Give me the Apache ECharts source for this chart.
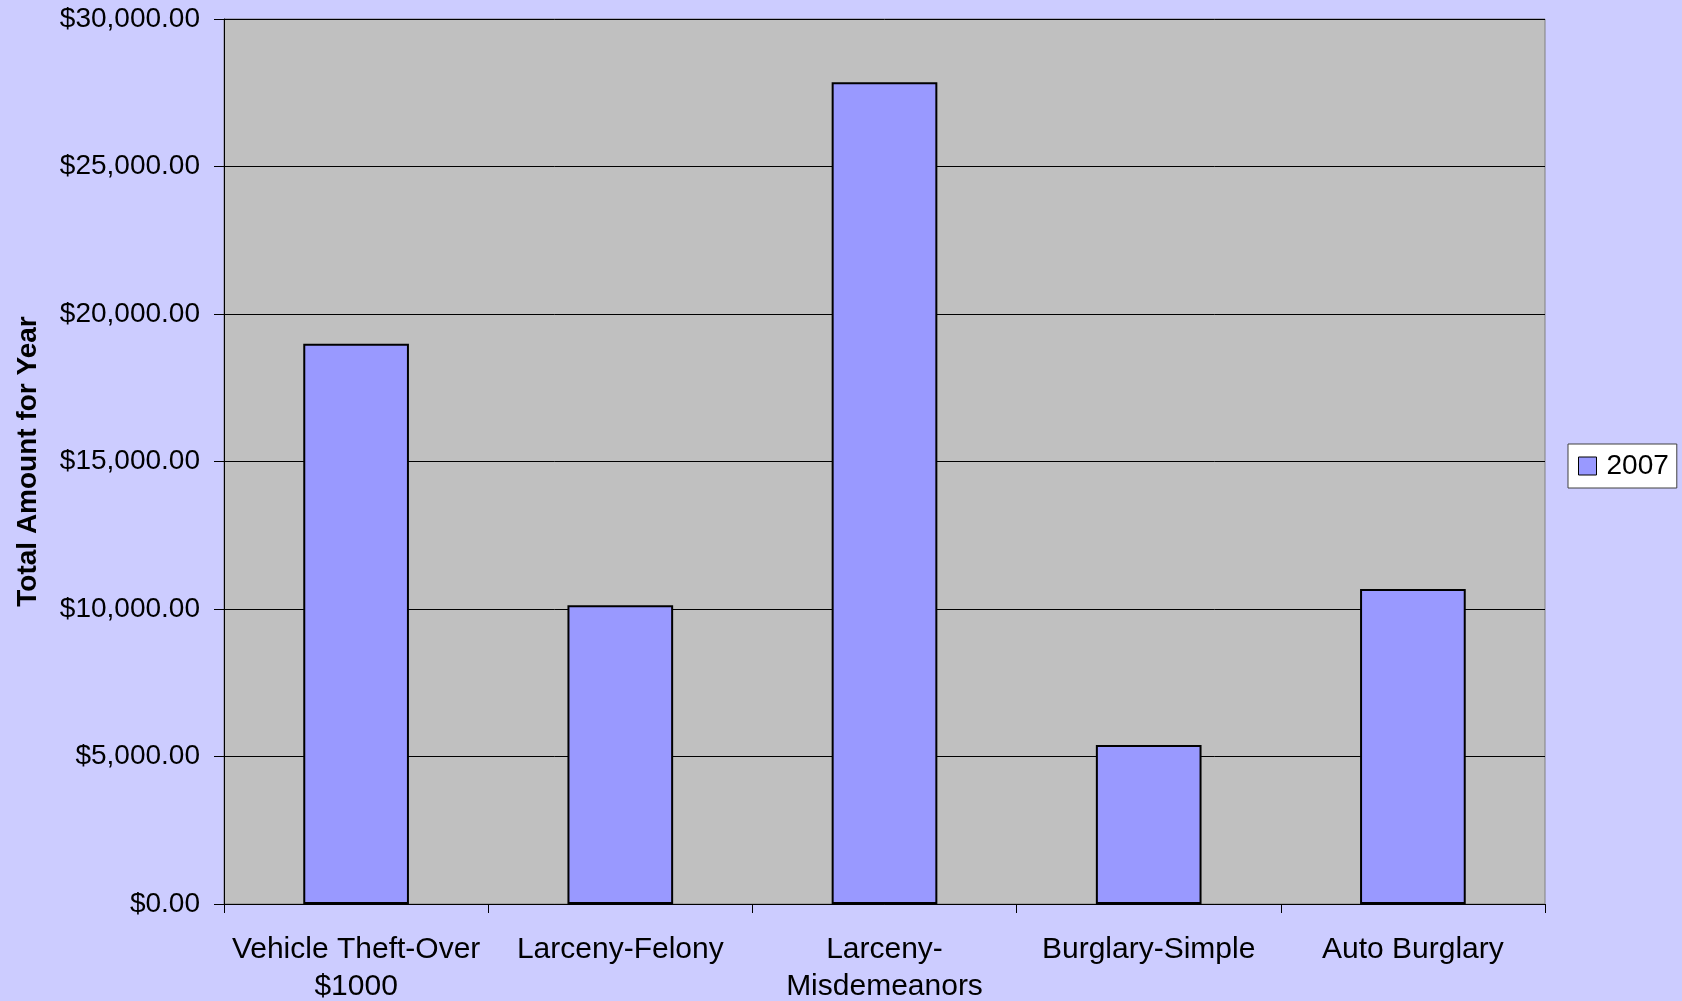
<!DOCTYPE html>
<html>
<head>
<meta charset="utf-8">
<script src="https://cdn.jsdelivr.net/npm/echarts@6/dist/echarts.min.js"></script>
<style>
html,body{margin:0;padding:0;background:#ccccff;}
#chart{width:1682px;height:1001px;}
</style>
</head>
<body>
<div id="chart"></div>
<script>
var categories = ['Vehicle Theft-Over\n$1000', 'Larceny-Felony', 'Larceny-\nMisdemeanors', 'Burglary-Simple', 'Auto Burglary'];
var seriesName = '2007';
var values2007 = [18990, 10125, 27855, 5390, 10675];
var yTicks = [0, 5000, 10000, 15000, 20000, 25000, 30000];
var yAxisTitle = 'Total Amount for Year';

function money(v) {
  var s = Math.round(v).toString().replace(/\B(?=(\d{3})+(?!\d))/g, ',');
  return '$' + s + '.00';
}

var FONT = '"Liberation Sans", Arial, sans-serif';
var chart = echarts.init(document.getElementById('chart'), null, {renderer: 'canvas'});
chart.setOption({
  backgroundColor: '#ccccff',
  animation: false,
  textStyle: {fontFamily: FONT},
  grid: {
    left: 224, right: 137, top: 19, bottom: 97,
    containLabel: false,
    outerBoundsMode: 'none',
    show: true, backgroundColor: '#c0c0c0', borderColor: '#808080', borderWidth: 1
  },
  legend: {
    data: [seriesName],
    left: 1568, top: 444,
    orient: 'vertical',
    backgroundColor: '#ffffff',
    borderColor: '#404040',
    borderWidth: 1,
    padding: [8, 8, 8, 10],
    itemWidth: 18, itemHeight: 18, itemGap: 10,
    icon: 'rect',
    itemStyle: {borderColor: '#000000', borderWidth: 1},
    textStyle: {fontSize: 28, color: '#000000', fontFamily: FONT, padding: [0, 0, 0, 5]}
  },
  xAxis: {
    type: 'category',
    data: categories,
    boundaryGap: true,
    axisLine: {show: true, lineStyle: {color: '#000000', width: 1}},
    axisTick: {show: true, length: 9, lineStyle: {color: '#000000'}},
    axisLabel: {
      interval: 0, margin: 27, fontSize: 30, color: '#000000', lineHeight: 37,
      fontFamily: FONT
    },
    splitLine: {show: false}
  },
  yAxis: {
    type: 'value',
    min: yTicks[0], max: yTicks[yTicks.length - 1], interval: yTicks[1] - yTicks[0],
    name: yAxisTitle,
    nameLocation: 'middle',
    nameGap: 182,
    nameRotate: 90,
    nameTextStyle: {fontSize: 28, fontWeight: 'bold', color: '#000000', fontFamily: FONT},
    axisLine: {show: true, lineStyle: {color: '#000000', width: 1}},
    axisTick: {show: true, length: 10, lineStyle: {color: '#000000'}},
    axisLabel: {
      margin: 24, fontSize: 28, color: '#000000',
      fontFamily: FONT,
      formatter: function (v) { return money(v); }
    },
    splitLine: {show: true, lineStyle: {color: '#000000', width: 1}}
  },
  series: [{
    name: seriesName,
    type: 'bar',
    data: values2007,
    barWidth: '40%',
    itemStyle: {color: '#9999ff', borderColor: '#000000', borderWidth: 2}
  }]
});
</script>
</body>
</html>
